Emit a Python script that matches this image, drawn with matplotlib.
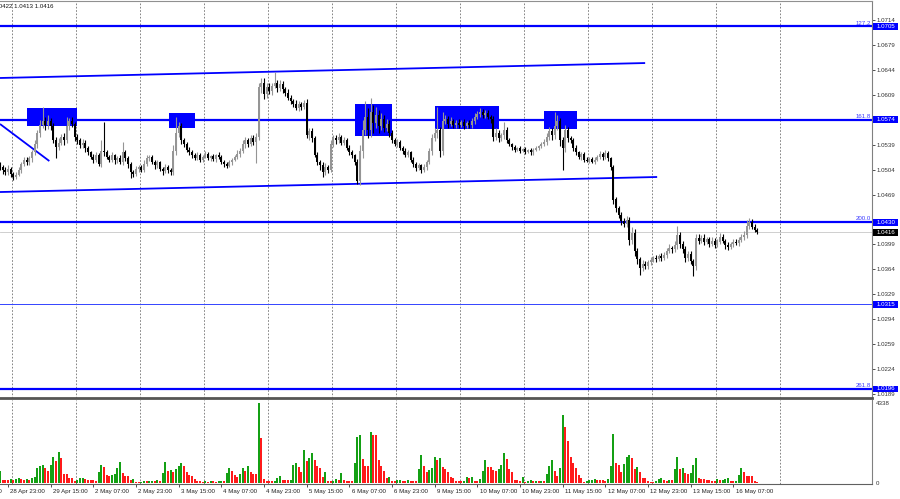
import numpy as np
import matplotlib
matplotlib.use("Agg")
import matplotlib.pyplot as plt
from matplotlib.patches import Rectangle
from matplotlib.transforms import blended_transform_factory

plt.rcParams['font.family'] = ['Liberation Sans', 'DejaVu Sans']

# EURUSD H1, 28 Apr 20:00 - 16 May 16:00, prices in pips (10508 = 1.0508)
first_open = 10510
close_pips = [
    10508, 10503, 10500, 10505, 10498, 10494, 10497, 10503, 10512, 10517,
    10514, 10520, 10528, 10540, 10555, 10566, 10572, 10566, 10572, 10565,
    10545, 10536, 10542, 10550, 10545, 10565, 10572, 10568, 10550, 10545,
    10538, 10542, 10534, 10528, 10522, 10518, 10524, 10512, 10530, 10528,
    10522, 10518, 10524, 10517, 10520, 10515, 10528, 10520, 10512, 10500,
    10498, 10505, 10508, 10504, 10512, 10520, 10522, 10515, 10510, 10514,
    10505, 10502, 10508, 10503, 10500, 10530, 10556, 10565, 10545, 10540,
    10532, 10528, 10525, 10520, 10524, 10518, 10522, 10526, 10520, 10523,
    10519, 10524, 10521, 10515, 10512, 10509, 10514, 10518, 10522, 10526,
    10530, 10540, 10545, 10540, 10548, 10543, 10550, 10620, 10625, 10610,
    10620, 10615, 10622, 10625, 10618, 10624, 10617, 10612, 10605, 10600,
    10596, 10590, 10596, 10592, 10597, 10552, 10558, 10548, 10525, 10515,
    10510, 10500, 10508, 10504, 10540, 10548, 10545, 10550, 10542, 10546,
    10535, 10528, 10524, 10515, 10488, 10530, 10560, 10578, 10560, 10585,
    10570, 10580, 10565, 10575, 10562, 10568, 10555, 10545, 10540, 10543,
    10535, 10530, 10525, 10528, 10518, 10512, 10506, 10510, 10503, 10508,
    10515, 10530, 10548, 10555, 10560, 10530, 10572, 10575, 10568, 10572,
    10566, 10570, 10567, 10571, 10565, 10569, 10566, 10572, 10578, 10582,
    10585, 10580, 10584, 10578, 10575, 10550, 10556, 10548, 10552, 10560,
    10545, 10540, 10536, 10532, 10534, 10530, 10533, 10529, 10531, 10528,
    10532, 10534, 10537, 10540, 10543, 10550, 10558, 10552, 10565, 10572,
    10545, 10535, 10560, 10548, 10545, 10535, 10528, 10522, 10526, 10518,
    10516, 10519, 10515, 10518, 10522, 10526, 10522, 10527, 10520, 10508,
    10462, 10450, 10440, 10432, 10428, 10433, 10405, 10415, 10390, 10378,
    10366, 10372, 10368, 10374, 10377, 10380, 10378, 10382, 10380, 10384,
    10390, 10394, 10392, 10398, 10412, 10400, 10392, 10380, 10386, 10376,
    10368, 10408, 10404, 10408, 10402, 10406, 10400, 10404, 10398, 10403,
    10410, 10404, 10398, 10395, 10400, 10403, 10401, 10405, 10409, 10412,
    10425, 10430, 10424, 10419, 10416,
]
# upper / lower shadow length in pips
up_wick = [
    4, 3, 5, 6, 3, 2, 4, 5, 3, 4,
    5, 3, 4, 6, 5, 8, 20, 6, 9, 5,
    4, 5, 7, 4, 6, 13, 5, 6, 3, 4,
    3, 5, 4, 3, 2, 4, 5, 3, 15, 41,
    4, 3, 5, 2, 3, 4, 15, 4, 3, 2,
    3, 4, 3, 2, 5, 4, 3, 2, 3, 4,
    2, 3, 4, 2, 3, 8, 22, 6, 5, 4,
    3, 4, 3, 2, 4, 3, 2, 4, 3, 2,
    3, 2, 4, 3, 2, 3, 4, 2, 3, 5,
    4, 6, 5, 4, 5, 4, 6, 6, 8, 7,
    5, 6, 4, 16, 5, 6, 4, 3, 5, 4,
    3, 5, 4, 3, 4, 6, 5, 4, 3, 4,
    3, 4, 5, 3, 6, 5, 4, 5, 3, 4,
    3, 4, 3, 2, 4, 8, 14, 22, 12, 20,
    10, 12, 8, 9, 6, 7, 5, 4, 3, 4,
    3, 2, 4, 3, 2, 3, 2, 3, 2, 4,
    3, 5, 6, 8, 32, 4, 13, 5, 4, 6,
    3, 4, 5, 3, 4, 3, 4, 5, 6, 4,
    5, 4, 3, 4, 3, 4, 6, 3, 4, 11,
    4, 3, 2, 3, 2, 3, 2, 3, 2, 3,
    2, 3, 2, 3, 4, 5, 6, 4, 20, 8,
    4, 5, 6, 4, 3, 4, 3, 2, 3, 2,
    3, 2, 3, 4, 3, 4, 3, 4, 3, 2,
    3, 4, 3, 5, 4, 6, 4, 8, 5, 4,
    3, 5, 4, 3, 4, 3, 4, 3, 5, 4,
    4, 5, 3, 6, 13, 5, 4, 5, 4, 3,
    2, 6, 5, 4, 5, 4, 3, 5, 4, 3,
    5, 4, 3, 4, 3, 4, 3, 4, 5, 6,
    8, 6, 4, 3, 3,
]
dn_wick = [
    4, 5, 4, 3, 5, 4, 3, 2, 4, 3,
    4, 3, 5, 4, 6, 5, 4, 7, 5, 6,
    4, 16, 5, 4, 6, 3, 5, 4, 6, 5,
    4, 3, 5, 4, 3, 5, 4, 3, 4, 5,
    3, 4, 3, 5, 4, 3, 5, 4, 6, 8,
    4, 3, 5, 3, 4, 3, 4, 3, 5, 4,
    3, 5, 3, 4, 3, 4, 5, 6, 5, 4,
    4, 3, 5, 3, 2, 4, 3, 2, 3, 4,
    3, 4, 2, 3, 4, 3, 2, 3, 2, 3,
    4, 3, 5, 4, 3, 5, 30, 5, 8, 7,
    6, 5, 6, 4, 5, 4, 5, 4, 3, 4,
    4, 3, 4, 5, 3, 4, 6, 5, 4, 5,
    6, 6, 4, 5, 3, 4, 5, 3, 4, 3,
    4, 3, 4, 5, 4, 6, 10, 8, 12, 10,
    14, 8, 10, 6, 5, 4, 5, 4, 3, 4,
    3, 4, 3, 4, 3, 5, 4, 3, 4, 3,
    4, 3, 5, 4, 6, 8, 5, 4, 5, 3,
    4, 3, 4, 3, 4, 3, 4, 3, 4, 3,
    4, 3, 4, 3, 5, 6, 4, 5, 4, 5,
    4, 3, 4, 3, 2, 3, 2, 3, 2, 3,
    3, 2, 3, 2, 3, 4, 5, 6, 5, 6,
    8, 32, 6, 5, 4, 5, 4, 3, 4, 3,
    2, 3, 2, 3, 2, 3, 4, 3, 4, 5,
    6, 5, 4, 6, 5, 4, 7, 6, 8, 6,
    10, 5, 4, 3, 4, 3, 4, 3, 4, 3,
    4, 3, 5, 4, 5, 6, 5, 6, 4, 5,
    14, 5, 4, 3, 4, 3, 4, 3, 4, 3,
    4, 3, 5, 4, 3, 4, 3, 4, 3, 4,
    4, 5, 4, 3, 3,
]
volume = [
    670, 180, 170, 150, 200, 180, 230, 250, 200, 190,
    220, 170, 250, 350, 800, 900, 980, 800, 670, 990,
    1390, 1210, 1700, 1340, 490, 490, 270, 270, 130, 150,
    260, 300, 200, 190, 190, 170, 130, 580, 990, 890,
    450, 360, 430, 490, 810, 1120, 520, 400, 360, 180,
    220, 70, 60, 80, 100, 90, 100, 130, 120, 140,
    130, 520, 1120, 630, 700, 580, 760, 900, 1070, 940,
    580, 450, 400, 220, 130, 90, 80, 90, 80, 90,
    90, 80, 90, 130, 110, 520, 800, 630, 430, 340,
    490, 800, 670, 940, 610, 490, 490, 4338, 2420, 220,
    130, 130, 120, 130, 290, 360, 180, 180, 170, 180,
    980, 1080, 850, 610, 1790, 1210, 1340, 1610, 1260, 900,
    800, 310, 580, 90, 90, 130, 220, 160, 540, 180,
    130, 130, 130, 1080, 2480, 2600, 1300, 940, 940, 2750,
    2620, 2620, 1260, 940, 670, 250, 310, 130, 110, 150,
    180, 120, 100, 140, 130, 130, 130, 760, 1520, 900,
    580, 720, 810, 1390, 1260, 1360, 890, 760, 610, 310,
    270, 130, 90, 90, 110, 310, 250, 310, 130, 90,
    220, 670, 1250, 890, 850, 720, 630, 760, 980, 1610,
    1300, 760, 580, 160, 160, 90, 310, 70, 120, 160,
    100, 130, 90, 110, 90, 490, 940, 1250, 670, 360,
    800, 3690, 3020, 2290, 1430, 1080, 810, 430, 270, 70,
    100, 160, 180, 220, 170, 160, 150, 130, 220, 940,
    2660, 1080, 990, 610, 1030, 1390, 1540, 1340, 760, 890,
    580, 270, 270, 90, 80, 70, 90, 220, 250, 180,
    130, 160, 160, 760, 1390, 760, 800, 540, 490, 540,
    990, 1360, 250, 220, 200, 180, 150, 130, 90, 220,
    150, 180, 220, 250, 130, 120, 130, 430, 800, 580,
    360, 360, 360, 90, 60,
]

date_labels = ["28 Apr 07:00", "28 Apr 23:00", "29 Apr 15:00", "2 May 07:00",
               "2 May 23:00", "3 May 15:00", "4 May 07:00", "4 May 23:00",
               "5 May 15:00", "6 May 07:00", "6 May 23:00", "9 May 15:00",
               "10 May 07:00", "10 May 23:00", "11 May 15:00", "12 May 07:00",
               "12 May 23:00", "13 May 15:00", "16 May 07:00"]
date_bars = [-13, 3, 19, 35, 51, 67, 83, 99, 115, 131, 147, 163,
             179, 195, 211, 227, 243, 259, 275]
grid_bars = [4.5, 28.5, 52.5, 76.5, 100.5, 124.5, 148.5, 172.5,
             196.5, 220.5, 244.5, 268.5, 292.5]
# 1.0434 sits under the 1.0430 level box, so it gets no visible label
price_ticks = [1.0714, 1.0679, 1.0644, 1.0609, 1.0574, 1.0539, 1.0504, 1.0469,
               1.0434, 1.0399, 1.0364, 1.0329, 1.0294, 1.0259, 1.0224, 1.0189]
hidden_ticks = [1.0434, 1.0574]

# fibo levels: (price, label, thick)
fib_levels = [(1.0705, "127.2", True), (1.0574, "161.8", True),
              (1.0430, "200.0", True), (1.0315, None, False),
              (1.0196, "261.8", True)]
last_price = 1.0416

# trend lines (bar, price) pairs
channel_top = [(0, 1.06326), (241.9, 1.06536)]
channel_bottom = [(0, 1.04725), (246.4, 1.04936)]
short_line = [(0, 1.05680), (18.5, 1.05160)]

# blue zones: bar_from, bar_to, price_low, price_high
zones = [(10.1, 28.9, 1.05652, 1.05904),
         (63.4, 73.1, 1.05624, 1.05834),
         (133.1, 147.0, 1.05511, 1.05961),
         (163.1, 187.1, 1.05610, 1.05933),
         (204.0, 216.4, 1.05610, 1.05862)]

# ---- derived OHLC ----
close = np.array(close_pips) / 10000
open_ = np.r_[first_open, close_pips[:-1]] / 10000
high = np.maximum(open_, close) + np.array(up_wick) / 10000
low = np.minimum(open_, close) - np.array(dn_wick) / 10000
vol = np.array(volume)
bars = np.arange(len(close))

BLUE = '#0000ff'
W, H = 900, 499
fig = plt.figure(figsize=(W / 100, H / 100), dpi=100)
fig.patch.set_facecolor('white')

ax = fig.add_axes([0, (H - 398) / H, 872 / W, 397 / H])
axv = fig.add_axes([0, (H - 484) / H, 872 / W, 84 / H])

xmax = 872 / 2.667
for a in (ax, axv):
    a.set_xlim(0, xmax)
    a.spines['left'].set_visible(False)
    a.spines['right'].set_color('#808080')
    for g in grid_bars:
        a.axvline(g, color='#707070', lw=0.6, ls=(0, (2, 2)), zorder=0)

ax.set_ylim(1.01833, 1.07407)
axv.set_ylim(-50, 4500)

ax.spines['top'].set_color('#909090')
ax.spines['bottom'].set_color('#555555')
ax.spines['bottom'].set_linewidth(2)
axv.spines['top'].set_visible(False)
axv.spines['bottom'].set_color('#606060')

# zones and lines
for b0, b1, p0, p1 in zones:
    ax.add_patch(Rectangle((b0, p0), b1 - b0, p1 - p0, color=BLUE, lw=0, zorder=1))
for line in (channel_top, channel_bottom, short_line):
    ax.plot([line[0][0], line[1][0]], [line[0][1], line[1][1]],
            color=BLUE, lw=1.3, zorder=2, solid_capstyle='butt')
for price, name, thick in fib_levels:
    ax.axhline(price, color=BLUE if thick else '#3344ff',
               lw=1.6 if thick else 0.7, zorder=2)
ax.axhline(last_price, color='#c8c8c8', lw=0.6, zorder=1)

# candles
bull = close >= open_
cols = np.where(bull, '#959595', '#000000')
ax.vlines(bars, low, high, colors=cols, lw=0.8, zorder=3)
body = np.maximum(np.abs(close - open_), 0.00006)
ax.bar(bars, body, bottom=np.minimum(open_, close), width=0.8,
       color=cols, lw=0, zorder=4)

# volumes, green when higher than previous bar
vcols = ['#14a014'] + ['#14a014' if vol[i] > vol[i - 1] else '#ff1a1a'
                       for i in range(1, len(vol))]
axv.bar(bars, vol, width=0.75, color=vcols, lw=0, zorder=2)

# right price scale
fs = 4.4
ax.yaxis.tick_right()
ax.set_yticks(price_ticks)
ax.set_yticklabels(["" if p in hidden_ticks else f"{p:.4f}" for p in price_ticks])
ax.tick_params(axis='y', length=2, width=0.6, colors='#333333',
               labelsize=fs, pad=1.5)
ax.set_xticks([])

axv.yaxis.tick_right()
axv.set_yticks([0, 4338])
axv.set_yticklabels(["0", "4338"])
axv.tick_params(axis='y', length=0, colors='#333333', labelsize=fs, pad=3)

tr = blended_transform_factory(ax.transAxes, ax.transData)
box_h = 0.00047
for price, name, thick in fib_levels:
    ax.add_patch(Rectangle((1.0012, price - box_h), 0.0285, 2 * box_h,
                           transform=tr, color=BLUE, lw=0, clip_on=False, zorder=6))
    ax.text(1.0155, price, f"{price:.4f}", transform=tr, color='white',
            fontsize=fs, ha='center', va='center', clip_on=False, zorder=7)
    if name:
        ax.text(0.9985, price + 0.00012, name, transform=tr, color='#3b3bff',
                fontsize=fs, ha='right', va='bottom', zorder=7)
ax.add_patch(Rectangle((1.0012, last_price - box_h), 0.0285, 2 * box_h,
                       transform=tr, color='black', lw=0, clip_on=False, zorder=6))
ax.text(1.0155, last_price, f"{last_price:.4f}", transform=tr, color='white',
        fontsize=fs, ha='center', va='center', clip_on=False, zorder=7)

# time scale
axv.set_xticks([b for b in date_bars if b >= 0])
axv.set_xticklabels([])
axv.tick_params(axis='x', length=2, width=0.6, colors='#333333')
trv = blended_transform_factory(axv.transData, axv.transAxes)
for b, lbl in zip(date_bars, date_labels):
    axv.text(b + 0.8, -0.085, lbl, transform=trv, fontsize=fs, color='#222222',
             ha='left', va='center', clip_on=False)

fig.text(54 / W, 1 - 6 / H, "EURUSD,H1  1.0419 1.0422 1.0413 1.0416",
         fontsize=fs, ha='right', va='center', color='#111111')

fig.savefig("out.png", dpi=100)
